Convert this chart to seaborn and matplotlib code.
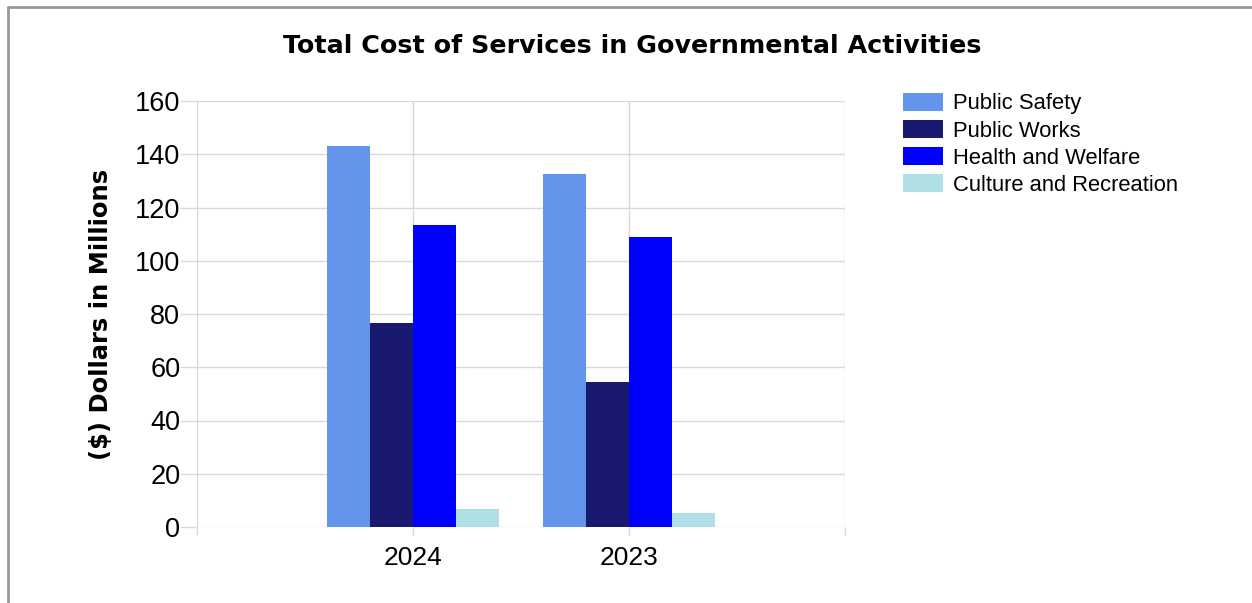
import matplotlib
matplotlib.use("Agg")
import matplotlib.pyplot as plt
import seaborn as sns
import pandas as pd
from matplotlib.lines import Line2D

years = ["2024", "2023"]
categories = ["Public Safety", "Public Works", "Health and Welfare", "Culture and Recreation"]
public_safety = [143.1, 132.5]
public_works = [76.6, 54.6]
health_welfare = [113.4, 108.9]
culture_recreation = [6.6, 5.3]
colors = ["#6495ED", "#191970", "#0000FF", "#B0E0E6"]
y_ticks = [0, 20, 40, 60, 80, 100, 120, 140, 160]

series = [public_safety, public_works, health_welfare, culture_recreation]
rows = []
for cat, vals in zip(categories, series):
    for yr, v in zip(years, vals):
        rows.append({"Year": yr, "Category": cat, "Value": v})
df = pd.DataFrame(rows)

sns.set_theme(style="white")
plt.rcParams['font.family'] = ['Liberation Sans', 'DejaVu Sans']
plt.rcParams['text.color'] = 'black'
plt.rcParams['axes.labelcolor'] = 'black'
plt.rcParams['xtick.color'] = 'black'
plt.rcParams['ytick.color'] = 'black'

fig = plt.figure(figsize=(12.52, 6.03), dpi=100)
ax = fig.add_axes([197/1252, 76/603, 648/1252, 426/603])

sns.barplot(data=df, x="Year", y="Value", hue="Category", order=years,
            hue_order=categories, palette=colors, width=0.8, ax=ax,
            edgecolor="none", linewidth=0, saturation=1, errorbar=None)

ax.set_xlim(-1, 2)
ax.set_ylim(0, 160)
ax.set_yticks(y_ticks)
ax.set_yticklabels([str(t) for t in y_ticks], fontsize=19.5, color="black")
ax.set_xticks([-1, 0, 1, 2])
ax.set_xticklabels(["", "2024", "2023", ""], fontsize=19, color="black")
ax.tick_params(axis="y", length=12, width=1, color="#d9d9d9", pad=0, left=True,
               labelcolor="black")
ax.tick_params(axis="x", length=6, width=1, color="#d9d9d9", pad=8, bottom=True,
               labelcolor="black")
ax.grid(True, axis="both", color="#d9d9d9", linewidth=1)
ax.set_axisbelow(True)
for s in ax.spines.values():
    s.set_visible(False)
ax.set_xlabel("")
ax.set_ylabel("($) Dollars in Millions", fontsize=17.5, fontweight="bold",
              family=["DejaVu Sans"], labelpad=16, color="black")

fig.text(632/1252, 1 - 46/603, "Total Cost of Services in Governmental Activities",
         ha="center", va="center", fontsize=18.3, fontweight="bold",
         family=["DejaVu Sans"], color="black")

leg = ax.legend(loc="upper left", bbox_to_anchor=(903/1252, 1 - 93/603),
                bbox_transform=fig.transFigure, frameon=False, fontsize=15.8,
                handlelength=1.83, handleheight=0.86, handletextpad=0.46,
                labelspacing=0.26, borderpad=0, borderaxespad=0)
for t in leg.get_texts():
    t.set_color("black")

fig.add_artist(Line2D([8/1252, 8/1252], [0, 1 - 7/603], transform=fig.transFigure,
                      color="#999999", linewidth=2))
fig.add_artist(Line2D([8/1252, 1], [1 - 7/603, 1 - 7/603], transform=fig.transFigure,
                      color="#999999", linewidth=2))

fig.savefig("out.png", dpi=100)
